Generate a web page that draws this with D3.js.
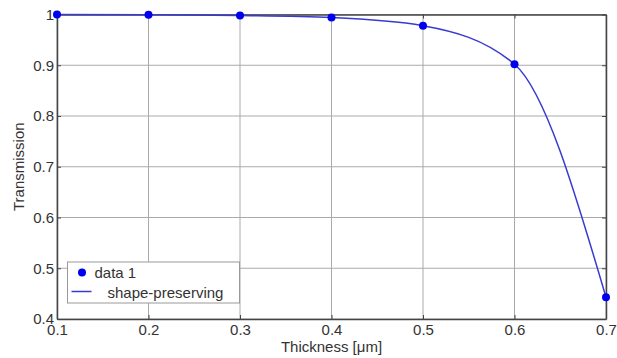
<!DOCTYPE html>
<html>

<head>
  <script src="https://cdn.jsdelivr.net/npm/d3@7/dist/d3.min.js"></script>
  <style type="text/css">
    body { margin: 0; background: #fff; }
    text { font-family: "Liberation Sans", Arial, sans-serif; fill: #333; }
  </style>
</head>

<body>
  <div id="chartArea"></div>
  <script type="text/javascript">
    let thickness = [0.1, 0.2, 0.3, 0.4, 0.5, 0.6, 0.7];
    let transmission = [1.0, 0.9995, 0.998, 0.994, 0.978, 0.902, 0.443];
    let xTicks = [0.1, 0.2, 0.3, 0.4, 0.5, 0.6, 0.7];
    let yTicks = [0.4, 0.5, 0.6, 0.7, 0.8, 0.9, 1];
    let legendLabels = ['data 1', 'shape-preserving'];

    let w = 617;
    let h = 358;
    let m = { left: 57, right: 11, top: 14.5, bottom: 39 };
    let fs = 15;

    let xScale = d3.scaleLinear()
      .domain([0.1, 0.7])
      .range([m.left, w - m.right]);

    let yScale = d3.scaleLinear()
      .domain([0.4, 1])
      .range([h - m.bottom, m.top]);

    let svg = d3.select('#chartArea').append('svg')
      .attr('width', w)
      .attr('height', h);

    // grid
    svg.append('g').selectAll('line.vx')
      .data(xTicks)
      .enter().append('line')
      .attr('x1', d => xScale(d)).attr('x2', d => xScale(d))
      .attr('y1', yScale(0.4)).attr('y2', yScale(1))
      .attr('stroke', '#aaa').attr('stroke-width', 1);
    svg.append('g').selectAll('line.hy')
      .data(yTicks)
      .enter().append('line')
      .attr('y1', d => yScale(d)).attr('y2', d => yScale(d))
      .attr('x1', xScale(0.1)).attr('x2', xScale(0.7))
      .attr('stroke', '#aaa').attr('stroke-width', 1);

    // axes
    let xAxis = svg.append('g')
      .attr('transform', `translate(0,${yScale(0.4)})`)
      .call(d3.axisBottom(xScale).tickValues(xTicks).tickSizeInner(-4).tickSizeOuter(0).tickPadding(5).tickFormat(d3.format('.1f')));
    let xAxisTop = svg.append('g')
      .attr('transform', `translate(0,${yScale(1)})`)
      .call(d3.axisTop(xScale).tickValues(xTicks).tickSizeInner(-4).tickSizeOuter(0).tickFormat(''));
    let yAxis = svg.append('g')
      .attr('transform', `translate(${xScale(0.1)},0)`)
      .call(d3.axisLeft(yScale).tickValues(yTicks).tickSizeInner(-4).tickSizeOuter(0).tickPadding(3).tickFormat(d => d === 1 ? '1' : d3.format('.1f')(d)));
    let yAxisRight = svg.append('g')
      .attr('transform', `translate(${xScale(0.7)},0)`)
      .call(d3.axisRight(yScale).tickValues(yTicks).tickSizeInner(-4).tickSizeOuter(0).tickFormat(''));

    [xAxis, xAxisTop, yAxis, yAxisRight].forEach(g => {
      g.select('.domain').attr('stroke', '#444').attr('stroke-width', 1.5);
      g.selectAll('.tick line').attr('stroke', '#444');
      g.selectAll('.tick text').attr('font-size', fs).attr('fill', '#333');
    });

    // curve
    let line = d3.line()
      .x((d, i) => xScale(thickness[i]))
      .y(d => yScale(d))
      .curve(d3.curveMonotoneX);

    svg.append('path')
      .datum(transmission)
      .attr('d', line)
      .attr('fill', 'none')
      .attr('stroke', '#3a3ad0')
      .attr('stroke-width', 1.5);

    svg.selectAll('circle.pt')
      .data(transmission)
      .enter().append('circle')
      .attr('cx', (d, i) => xScale(thickness[i]))
      .attr('cy', d => yScale(d))
      .attr('r', 4)
      .attr('fill', '#0000ee');

    // labels
    svg.append('text')
      .attr('x', (xScale(0.1) + xScale(0.7)) / 2)
      .attr('y', 352)
      .attr('text-anchor', 'middle')
      .attr('font-size', fs)
      .text('Thickness [μm]');

    svg.append('text')
      .attr('transform', `translate(24,${(yScale(0.4) + yScale(1)) / 2}) rotate(-90)`)
      .attr('text-anchor', 'middle')
      .attr('font-size', fs)
      .text('Transmission');

    // legend
    let legend = svg.append('g').attr('transform', 'translate(67.5,262)');
    legend.append('rect')
      .attr('width', 172).attr('height', 41)
      .attr('fill', '#fff').attr('stroke', '#999');
    legend.append('circle')
      .attr('cx', 14.5).attr('cy', 10.5).attr('r', 4).attr('fill', '#0000ee');
    legend.append('line')
      .attr('x1', 4).attr('x2', 24).attr('y1', 29.5).attr('y2', 29.5)
      .attr('stroke', '#3a3ad0').attr('stroke-width', 1.5);
    legend.append('text').attr('x', 27).attr('y', 16).attr('font-size', fs).text(legendLabels[0]);
    legend.append('text').attr('x', 40).attr('y', 36).attr('font-size', fs).text(legendLabels[1]);
  </script>
</body>

</html>
